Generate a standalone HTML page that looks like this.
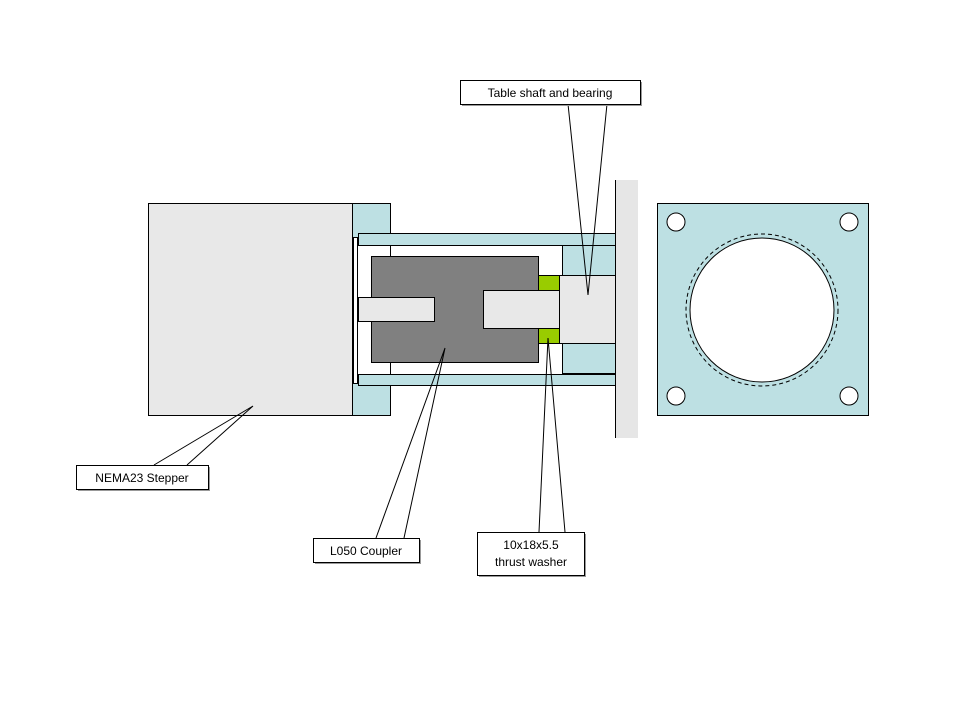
<!DOCTYPE html>
<html><head><style>body{margin:0;background:#fff}svg{display:block}text{font-family:"Liberation Sans",sans-serif;font-size:12px;fill:#000}</style></head>
<body>
<svg width="960" height="720" viewBox="0 0 960 720">
<g stroke="#000" stroke-width="1">
<!-- table plate -->
<rect x="615" y="180" width="23" height="258" fill="#e6e6e6" stroke="none"/>
<line x1="615.5" y1="180" x2="615.5" y2="438"/>
<!-- motor -->
<rect x="148.5" y="203.5" width="204" height="212" fill="#e8e8e8"/>
<rect x="352.5" y="203.5" width="38" height="212" fill="#bde0e3"/>
<rect x="358" y="245" width="32" height="129" fill="#fff" stroke="none"/>
<rect x="353.5" y="237.5" width="4" height="146" fill="#fff"/>
<!-- tubes -->
<rect x="358.5" y="233.5" width="257" height="12" fill="#bde0e3"/>
<rect x="358.5" y="374.5" width="257" height="11" fill="#bde0e3"/>
<!-- bearing housing -->
<rect x="562.5" y="245.5" width="53" height="30" fill="#bde0e3"/>
<rect x="562.5" y="343.5" width="53" height="30" fill="#bde0e3"/>
<rect x="559.5" y="275.5" width="56" height="68" fill="#e8e8e8"/>
<!-- coupler -->
<rect x="371.5" y="256.5" width="167" height="106" fill="#808080"/>
<rect x="538.5" y="275.5" width="21" height="15" fill="#99cc00"/>
<rect x="538.5" y="328.5" width="21" height="15" fill="#99cc00"/>
<rect x="358.5" y="297.5" width="76" height="24" fill="#e8e8e8"/>
<rect x="483.5" y="290.5" width="76" height="38" fill="#e8e8e8"/>
<!-- right plate -->
<rect x="657.5" y="203.5" width="211" height="212" fill="#bde0e3"/>
<circle cx="762" cy="310" r="76" fill="none" stroke-dasharray="4,3"/>
<circle cx="762" cy="310" r="72" fill="#fff"/>
<circle cx="676" cy="222" r="9" fill="#fff"/>
<circle cx="849" cy="222" r="9" fill="#fff"/>
<circle cx="676" cy="396" r="9" fill="#fff"/>
<circle cx="849" cy="396" r="9" fill="#fff"/>
<!-- leaders -->
<polyline points="568,104 588,295 607,104" fill="none"/>
<polyline points="154,465 253,406 187,465" fill="none"/>
<polyline points="376,538 445,348 404,538" fill="none"/>
<polyline points="539,532 548,338 565,532" fill="none"/>
<!-- label boxes -->
<rect x="462" y="82" width="180" height="24" fill="#999" stroke="none"/>
<rect x="460.5" y="80.5" width="180" height="24" fill="#fff"/>
<rect x="78" y="467" width="132" height="24" fill="#999" stroke="none"/>
<rect x="76.5" y="465.5" width="132" height="24" fill="#fff"/>
<rect x="315" y="540" width="106" height="24" fill="#999" stroke="none"/>
<rect x="313.5" y="538.5" width="106" height="24" fill="#fff"/>
<rect x="479" y="534" width="107" height="43" fill="#999" stroke="none"/>
<rect x="477.5" y="532.5" width="107" height="43" fill="#fff"/>
</g>
<text x="550" y="97" text-anchor="middle">Table shaft and bearing</text>
<text x="142" y="482" text-anchor="middle">NEMA23 Stepper</text>
<text x="366" y="555" text-anchor="middle">L050 Coupler</text>
<text x="531" y="549" text-anchor="middle">10x18x5.5</text>
<text x="531" y="566" text-anchor="middle">thrust washer</text>
</svg>
</body></html>
